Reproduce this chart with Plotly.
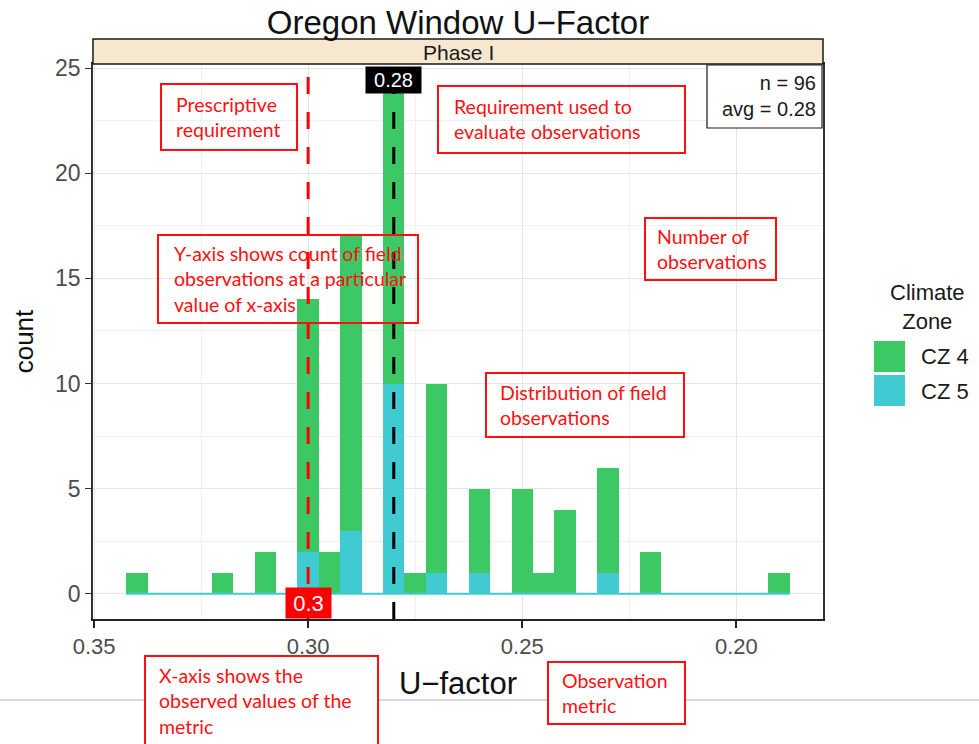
import plotly.graph_objects as go

# ---------------- data ----------------
u_bins = [0.340, 0.335, 0.330, 0.325, 0.320, 0.315, 0.310, 0.305, 0.300, 0.295,
          0.290, 0.285, 0.280, 0.275, 0.270, 0.265, 0.260, 0.255, 0.250, 0.245,
          0.240, 0.235, 0.230, 0.225, 0.220, 0.215, 0.210, 0.205, 0.200, 0.195,
          0.190]
cz4_counts = [1, 0, 0, 0, 1, 0, 2, 0, 12, 2,
              14, 0, 14, 1, 9, 0, 4, 0, 5, 1,
              4, 0, 5, 0, 2, 0, 0, 0, 0, 0,
              1]
cz5_counts = [0, 0, 0, 0, 0, 0, 0, 0, 2, 0,
              3, 0, 10, 0, 1, 0, 1, 0, 0, 0,
              0, 0, 1, 0, 0, 0, 0, 0, 0, 0,
              0]
bin_width = 0.005
zone_names = ["CZ 4", "CZ 5"]
zone_colors = ["#3DC866", "#3FCBD1"]

prescriptive_req = 0.30
evaluated_req = 0.28
prescriptive_label = "0.3"
evaluated_label = "0.28"

x_ticks = [0.35, 0.30, 0.25, 0.20]
x_ticktext = ["0.35", "0.30", "0.25", "0.20"]
x_minor = [0.325, 0.275, 0.225]
y_ticks = [0, 5, 10, 15, 20, 25]
y_minor = [2.5, 7.5, 12.5, 17.5, 22.5]

title_text = "Oregon Window U\u2212Factor"
strip_text = "Phase I"
x_title = "U\u2212factor"
y_title = "count"

n_obs = sum(cz4_counts) + sum(cz5_counts)
avg_u = sum(u * (a + b) for u, a, b in zip(u_bins, cz4_counts, cz5_counts)) / n_obs

# ---------------- geometry helpers (page pixel -> paper) ----------------
W, H = 979, 744
L, R, T, B = 93, 823, 64, 619   # plot panel in page pixels


def px(x):
    return (x - L) / (R - L)


def py(y):
    return (B - y) / (B - T)


AX_FONT = "Liberation Sans, Arial, sans-serif"
NOTE_FONT = "Lato, Carlito, sans-serif"
RED = "#FF1010"

fig = go.Figure()

# baseline of the histogram (zero-height bins)
fig.add_trace(go.Scatter(
    x=[max(u_bins) + bin_width / 2, min(u_bins) - bin_width / 2], y=[0, 0],
    mode="lines", line=dict(color=zone_colors[1], width=2),
    hoverinfo="skip", showlegend=False))

fig.add_trace(go.Bar(x=u_bins, y=cz5_counts, width=bin_width, name=zone_names[1],
                     marker=dict(color=zone_colors[1], line=dict(width=0))))
fig.add_trace(go.Bar(x=u_bins, y=cz4_counts, width=bin_width, name=zone_names[0],
                     marker=dict(color=zone_colors[0], line=dict(width=0))))

shapes = []
annotations = []

# reference lines
shapes.append(dict(type="line", xref="x", yref="paper", x0=prescriptive_req, x1=prescriptive_req,
                   y0=0, y1=1, line=dict(color="#FF0000", width=3, dash="17px,18px")))
shapes.append(dict(type="line", xref="x", yref="paper", x0=evaluated_req, x1=evaluated_req,
                   y0=0, y1=1, line=dict(color="#000000", width=3, dash="17px,18px")))

# facet strip
shapes.append(dict(type="rect", xref="paper", yref="paper", x0=0, x1=1, y0=py(64), y1=py(39),
                   fillcolor="#F8E7CF", line=dict(color="#1A1A1A", width=1.5)))
annotations.append(dict(xref="paper", yref="paper", x=0.5, y=py(53), text=strip_text,
                        showarrow=False, font=dict(family=AX_FONT, size=21, color="#1A1A1A"),
                        xanchor="center", yanchor="middle"))

# n / avg box
shapes.append(dict(type="rect", xref="paper", yref="paper", x0=px(707), x1=px(822), y0=py(128), y1=py(65),
                   fillcolor="white", line=dict(color="#1A1A1A", width=1.2)))
annotations.append(dict(xref="paper", yref="paper", x=px(818), y=py(96),
                        text=f"n = {n_obs}<br>avg = {avg_u:.2f}", showarrow=False, align="right",
                        font=dict(family=AX_FONT, size=20, color="#1A1A1A"),
                        xanchor="right", yanchor="middle"))

# value labels on reference lines
annotations.append(dict(xref="x", yref="paper", x=evaluated_req, y=py(80), text=evaluated_label,
                        showarrow=False, font=dict(family=AX_FONT, size=20, color="white"),
                        bgcolor="black", width=55, height=26, borderpad=0,
                        xanchor="center", yanchor="middle"))
annotations.append(dict(xref="x", yref="paper", x=prescriptive_req, y=py(603), text=prescriptive_label,
                        showarrow=False, font=dict(family=AX_FONT, size=22, color="white"),
                        bgcolor="#FF0000", width=45, height=30, borderpad=0,
                        xanchor="center", yanchor="middle"))

# horizontal page separator line
shapes.append(dict(type="line", xref="paper", yref="paper", x0=px(0), x1=px(W), y0=py(700), y1=py(700),
                   line=dict(color="#C8C8C8", width=1.5)))

# red explanatory boxes: (x0, y0, x1, y1, text_x, text, filled)
notes = [
    (161, 84, 297, 150, 174, "Prescriptive<br>requirement", False),
    (438, 86, 685, 153, 452, "Requirement used to<br>evaluate observations", False),
    (158, 235, 418, 323, 172, "Y-axis shows count of field<br>observations at a particular<br>value of x-axis", False),
    (645, 218, 776, 280, 655, "Number of<br>observations", False),
    (486, 373, 684, 437, 498, "Distribution of field<br>observations", False),
    (145, 656, 378, 750, 157, "X-axis shows the<br>observed values of the<br>metric", True),
    (548, 662, 685, 724, 560, "Observation<br>metric", True),
]
for x0, y0, x1, y1, tx, txt, filled in notes:
    shapes.append(dict(type="rect", xref="paper", yref="paper", x0=px(x0), x1=px(x1), y0=py(y1), y1=py(y0),
                       fillcolor="white" if filled else "rgba(0,0,0,0)",
                       line=dict(color=RED, width=2)))
    cy = (y0 + y1) / 2 if y1 <= H else (y0 + 20 + txt.count("<br>") * 12.5)
    annotations.append(dict(xref="paper", yref="paper", x=px(tx), y=py(cy), text=txt,
                            showarrow=False, align="left", xanchor="left", yanchor="middle",
                            font=dict(family=NOTE_FONT, size=19.5, color=RED)))

# custom legend
annotations.append(dict(xref="paper", yref="paper", x=px(927), y=py(307), text="Climate<br>Zone",
                        showarrow=False, align="center", xanchor="center", yanchor="middle",
                        font=dict(family=AX_FONT, size=22, color="#1A1A1A")))
for i, (nm, col) in enumerate(zip(zone_names, zone_colors)):
    top = 341 + i * 34
    shapes.append(dict(type="rect", xref="paper", yref="paper", x0=px(874), x1=px(905),
                       y0=py(top + 31), y1=py(top), fillcolor=col, line=dict(width=0)))
    annotations.append(dict(xref="paper", yref="paper", x=px(919), y=py(top + 16), text=nm,
                            showarrow=False, xanchor="left", yanchor="middle",
                            font=dict(family=AX_FONT, size=22, color="#1A1A1A")))

fig.update_layout(
    width=W, height=H,
    margin=dict(l=L, r=W - R, t=T, b=H - B, autoexpand=False),
    plot_bgcolor="white", paper_bgcolor="white",
    barmode="stack", bargap=0, showlegend=False,
    title=dict(text=title_text, x=0.5, xref="paper", y=1 - 22 / H, yref="container",
               xanchor="center", yanchor="middle",
               font=dict(family=AX_FONT, size=33, color="#111111")),
    shapes=shapes, annotations=annotations,
    xaxis=dict(range=[0.35025, 0.17975], tickmode="array", tickvals=x_ticks, ticktext=x_ticktext,
               automargin=False,
               ticks="outside", ticklen=7, tickwidth=1.5, tickcolor="#222222",
               showline=True, linecolor="#222222", linewidth=1.8, mirror=True,
               showgrid=True, gridcolor="#E6E6E6", gridwidth=1.2, zeroline=False,
               minor=dict(tickmode="array", tickvals=x_minor, showgrid=True,
                          gridcolor="#F0F0F0", gridwidth=0.8, ticks=""),
               tickfont=dict(family=AX_FONT, size=22, color="#4D4D4D"),
               title=dict(text=x_title, standoff=14,
                          font=dict(family=AX_FONT, size=31, color="#111111"))),
    yaxis=dict(range=[-1.2, 25.2], tickmode="array", tickvals=y_ticks,
               automargin=False,
               ticks="outside", ticklen=6, tickwidth=1.2, tickcolor="#333333",
               showline=True, linecolor="#333333", linewidth=1.5, mirror=True,
               showgrid=True, gridcolor="#E6E6E6", gridwidth=1.2, zeroline=False,
               minor=dict(tickmode="array", tickvals=y_minor, showgrid=True,
                          gridcolor="#F0F0F0", gridwidth=0.8, ticks=""),
               tickfont=dict(family=AX_FONT, size=23, color="#4D4D4D"),
               title=dict(text=y_title, standoff=14,
                          font=dict(family=AX_FONT, size=26, color="#111111"))),
)

# the page is photographed at 979x744: drop the browser's default 8px body margin
fig.write_html("out.html", config={"displayModeBar": False},
               post_script="document.body.style.margin='0px';document.body.style.overflow='hidden';")
